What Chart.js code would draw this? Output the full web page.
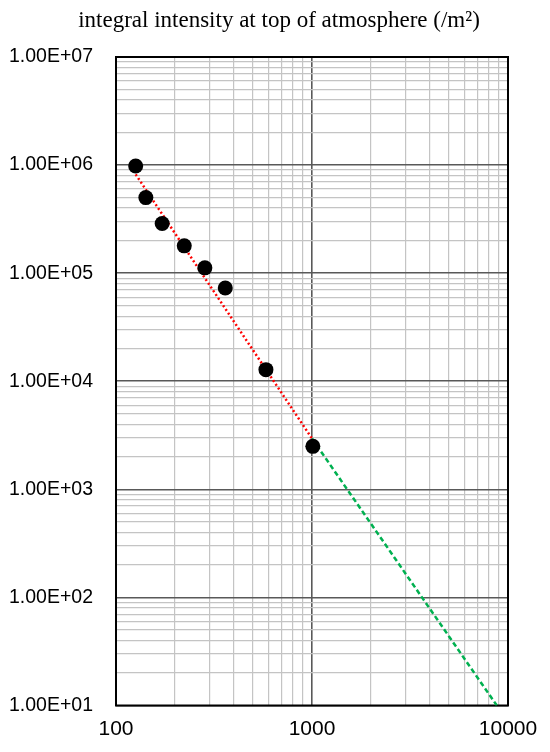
<!DOCTYPE html>
<html>
<head>
<meta charset="utf-8">
<script src="https://cdn.jsdelivr.net/npm/chart.js@4.4.0/dist/chart.umd.min.js"></script>
<style>
  html, body { margin: 0; padding: 0; background: #fff; }
  #Chart { display: block; }
</style>
</head>
<body>
<canvas id="Chart" width="550" height="752"></canvas>
<script>
// measured points: energy vs integral intensity
const pointX = [126, 142, 172, 223, 284, 361, 582, 1010];
const pointY = [9.8e5, 5.0e5, 2.88e5, 1.79e5, 1.12e5, 7.3e4, 1.28e4, 2.5e3];

// red dotted fit
const fitX = [126, 1000];
const fitY = [8.2e5, 2950];

// green dashed extrapolation
const extX = [1000, 8770];
const extY = [2950, 10];

const xTickValues = [100, 1000, 10000];
const xTickLabels = ['100', '1000', '10000'];
const yTickValues = [10, 100, 1000, 10000, 100000, 1000000, 10000000];
const yTickLabels = ['1.00E+01', '1.00E+02', '1.00E+03', '1.00E+04', '1.00E+05', '1.00E+06', '1.00E+07'];

const titleText = 'integral intensity at top of atmosphere (/m\u00B2)';


// gridlines at 1..9 in every decade
function decadeTicks(majors) {
	let out = [];
	for (let i = 0; i < majors.length - 1; i++) {
		for (let k = 1; k <= 9; k++) out.push({ value: majors[i] * k });
	}
	out.push({ value: majors[majors.length - 1] });
	return out;
}

function toPoints(xs, ys) {
	return xs.map((x, i) => ({ x: x, y: ys[i] }));
}

function gridColor(majors) {
	return ctx => majors.includes(ctx.tick.value) ? '#595959' : '#c4c4c4';
}
function gridWidth(majors) {
	return ctx => majors.includes(ctx.tick.value) ? 1.6 : 1.2;
}

const framePlugin = {
	id: 'frame',
	beforeDatasetsDraw(chart) {
		const a = chart.chartArea;
		const c = chart.ctx;
		c.save();
		c.strokeStyle = '#000';
		c.lineWidth = 2;
		c.strokeRect(a.left, a.top, a.right - a.left, a.bottom - a.top);
		c.restore();
	},
	afterDraw(chart) {
		const c = chart.ctx;
		c.save();
		c.fillStyle = '#000';
		c.font = '23px "Liberation Serif", "Times New Roman", serif';
		c.textAlign = 'center';
		c.textBaseline = 'middle';
		c.fillText(titleText, 279, 21);
		c.restore();
	}
};

const canvas = document.getElementById('Chart');
const ctx = canvas.getContext('2d');

var myChart = new Chart(ctx, {
	type: 'scatter',
	data: {
		datasets: [{
			label: 'data',
			data: toPoints(pointX, pointY),
			backgroundColor: '#000',
			borderColor: '#000',
			pointRadius: 7.5,
			pointBorderWidth: 0,
			showLine: false,
			order: 0
		}, {
			label: 'fit',
			data: toPoints(fitX, fitY),
			showLine: true,
			borderColor: '#ff0000',
			borderWidth: 2.5,
			borderDash: [2, 2.5],
			pointRadius: 0,
			order: 1
		}, {
			label: 'extrapolation',
			data: toPoints(extX, extY),
			showLine: true,
			borderColor: '#00b050',
			borderWidth: 2.5,
			borderDash: [5, 3],
			pointRadius: 0,
			order: 1
		}]
	},
	options: {
		responsive: false,
		animation: false,
		layout: { padding: { top: 57, right: 42, left: 0, bottom: 0 } },
		plugins: {
			legend: { display: false },
			title: { display: false },
			tooltip: { enabled: false }
		},
		scales: {
			x: {
				type: 'logarithmic',
				min: 100,
				max: 10000,
				afterBuildTicks: scale => { scale.ticks = decadeTicks(xTickValues); },
				afterFit: scale => { scale.height = 46.5; },
				grid: { color: gridColor(xTickValues), lineWidth: gridWidth(xTickValues), drawTicks: false },
				border: { display: false },
				ticks: {
					autoSkip: false,
					maxRotation: 0,
					padding: 11,
					color: '#000',
					font: { family: '"Liberation Sans", Arial, sans-serif', size: 21 },
					callback: value => {
						const i = xTickValues.indexOf(value);
						return i >= 0 ? xTickLabels[i] : '';
					}
				}
			},
			y: {
				type: 'logarithmic',
				min: 10,
				max: 10000000,
				afterBuildTicks: scale => { scale.ticks = decadeTicks(yTickValues); },
				afterFit: scale => { scale.width = 116; },
				grid: { color: gridColor(yTickValues), lineWidth: gridWidth(yTickValues), drawTicks: false },
				border: { display: false },
				ticks: {
					autoSkip: false,
					padding: 23,
					color: '#000',
					font: { family: '"Liberation Sans", Arial, sans-serif', size: 19.5 },
					callback: value => {
						const i = yTickValues.indexOf(value);
						return i >= 0 ? yTickLabels[i] : '';
					}
				}
			}
		}
	},
	plugins: [framePlugin]
});
</script>
</body>
</html>
